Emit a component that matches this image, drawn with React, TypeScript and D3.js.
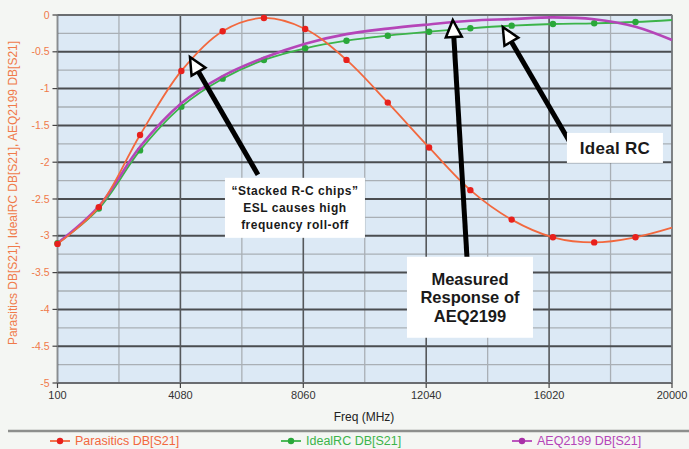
import * as d3 from "d3";
import React from "react";

const width = 689;
const height = 449;
const margin = { top: 15, right: 17, bottom: 66, left: 57.5 };

// frequency points (MHz) where markers sit, last one is the sweep end
const freqs = [100, 1437, 2774, 4111, 5448, 6785, 8122, 9459, 10796, 12133, 13470, 14807, 16144, 17481, 18818, 20000];
const parasitics = [-3.11, -2.61, -1.63, -0.76, -0.22, -0.04, -0.19, -0.61, -1.19, -1.8, -2.38, -2.78, -3.02, -3.09, -3.02, -2.89];
const idealRC = [-3.1, -2.63, -1.84, -1.245, -0.865, -0.611, -0.452, -0.349, -0.281, -0.227, -0.181, -0.145, -0.122, -0.113, -0.095, -0.068];
const aeq2199 = [-3.1, -2.6, -1.79, -1.2, -0.83, -0.58, -0.39, -0.26, -0.185, -0.128, -0.078, -0.055, -0.032, -0.058, -0.159, -0.34];

const xTicks = [100, 4080, 8060, 12040, 16020, 20000];
const yTicks = [0, -0.5, -1, -1.5, -2, -2.5, -3, -3.5, -4, -4.5, -5];

const series = [
  { name: "IdealRC DB[S21]", values: idealRC, line: "#3cb44a", mark: "#2aa83a", markers: true },
  { name: "AEQ2199 DB[S21]", values: aeq2199, line: "#b545b8", mark: "#a830a8", markers: false },
  { name: "Parasitics DB[S21]", values: parasitics, line: "#f2683e", mark: "#e8201c", markers: true },
];
const legendOrder = ["Parasitics DB[S21]", "IdealRC DB[S21]", "AEQ2199 DB[S21]"];

// annotations in data units (freq, dB)
const notes = [
  {
    lines: ["\u201cStacked R-C chips\u201d", "ESL causes high", "frequency roll-off"],
    tip: [4390, -0.57], tail: [6592, -2.17], box: [7790, -2.62], w: 140, h: 60, size: 12, lh: 17, ls: 0.5,
  },
  {
    lines: ["Measured", "Response of", "AEQ2199"],
    tip: [12902, -0.068], tail: [13360, -3.29], box: [13457, -3.835], w: 126, h: 81, size: 16.5, lh: 18.5, ls: 0,
  },
  {
    lines: ["Ideal RC"],
    tip: [14521, -0.163], tail: [16690, -1.724], box: [18152, -1.806], w: 96, h: 30, size: 17, lh: 16, ls: 0.3,
  },
];

const x = d3.scaleLinear().domain([100, 20000]).range([margin.left, width - margin.right]);
const y = d3.scaleLinear().domain([0, -5]).range([margin.top, height - margin.bottom]);

const Arrow = ({ tip, tail }: { tip: number[]; tail: number[] }) => {
  const tx = x(tip[0]), ty = y(tip[1]);
  const sx = x(tail[0]), sy = y(tail[1]);
  const ang = Math.atan2(ty - sy, tx - sx);
  const len = 17, half = 8;
  const bx = tx - len * Math.cos(ang), by = ty - len * Math.sin(ang);
  const px = -Math.sin(ang) * half, py = Math.cos(ang) * half;
  return (
    <g>
      <line x1={sx} y1={sy} x2={bx} y2={by} stroke="#000" strokeWidth={5} />
      <path
        d={`M${tx},${ty}L${bx + px},${by + py}L${bx - px},${by - py}Z`}
        fill="#fff"
        stroke="#000"
        strokeWidth={2.5}
      />
    </g>
  );
};

const App = () => {
  const [x0, x1] = x.range();
  const [y0, y1] = y.range();
  const line = d3
    .line<number>()
    .x((_, i) => x(freqs[i]))
    .y((d) => y(d))
    .curve(d3.curveCatmullRom.alpha(0.5));

  const minorX = xTicks.slice(1).map((t, i) => (t + xTicks[i]) / 2);
  const minorY = d3.range(0, 10).map((i) => -0.25 - i * 0.5);

  const legendX: Record<string, number> = {
    "Parasitics DB[S21]": 60,
    "IdealRC DB[S21]": 291,
    "AEQ2199 DB[S21]": 522,
  };

  return (
    <svg
      width={width}
      height={height}
      style={{ position: "absolute", left: 0, top: 0, fontFamily: "Liberation Sans, Arial, sans-serif" }}
    >
      <rect width={width} height={height} fill="#f4f6f3" />
      <rect x={x0} y={y0} width={x1 - x0} height={y1 - y0} fill="#dce9f5" />

      {/* grid */}
      {minorY.map((v) => (
        <line key={"my" + v} x1={x0} x2={x1} y1={y(v)} y2={y(v)} stroke="#a9afb5" strokeWidth={1.3} />
      ))}
      {minorX.map((v) => (
        <line key={"mx" + v} x1={x(v)} x2={x(v)} y1={y0} y2={y1} stroke="#a9afb5" strokeWidth={1.3} />
      ))}
      {yTicks.map((v) => (
        <line key={"gy" + v} x1={x0} x2={x1} y1={y(v)} y2={y(v)} stroke="#4a4d50" strokeWidth={2} />
      ))}
      {xTicks.map((v) => (
        <line key={"gx" + v} x1={x(v)} x2={x(v)} y1={y0} y2={y1} stroke="#55585b" strokeWidth={1.6} />
      ))}
      <rect x={x0} y={y0} width={x1 - x0} height={y1 - y0} fill="none" stroke="#8a8d90" strokeWidth={1} />

      {/* y axis */}
      {yTicks.map((v) => (
        <g key={"yt" + v}>
          <line x1={x0 - 5} x2={x0} y1={y(v)} y2={y(v)} stroke="#444" strokeWidth={1.2} />
          <text x={x0 - 8} y={y(v)} dy="0.35em" textAnchor="end" fontSize={10.5} fill="#f07a4a">
            {v}
          </text>
        </g>
      ))}
      <text
        transform={`translate(17,193) rotate(-90)`}
        textAnchor="middle"
        fontSize={12}
        fill="#f07a4a"
      >
        Parasitics DB[S21], IdealRC DB[S21], AEQ2199 DB[S21]
      </text>

      {/* x axis */}
      {xTicks.map((v) => (
        <g key={"xt" + v}>
          <line x1={x(v)} x2={x(v)} y1={y1} y2={y1 + 5} stroke="#444" strokeWidth={1.2} />
          <text x={x(v)} y={y1 + 16} textAnchor="middle" fontSize={11} fill="#333">
            {v}
          </text>
        </g>
      ))}
      <text x={364} y={y1 + 38} textAnchor="middle" fontSize={12} fill="#222">
        Freq (MHz)
      </text>

      {/* series */}
      {series.map((s) => (
        <g key={s.name}>
          <path d={line(s.values) || ""} fill="none" stroke={s.line} strokeWidth={s.name.startsWith("AEQ") ? 2.6 : 1.8} />
          {s.markers &&
            s.values.slice(0, -1).map((v, i) => (
              <circle key={i} cx={x(freqs[i])} cy={y(v)} r={3.2} fill={s.mark} />
            ))}
        </g>
      ))}

      {/* annotations */}
      {notes.map((n, k) => {
        const cx = x(n.box[0]);
        const cy = y(n.box[1]);
        const top = cy - ((n.lines.length - 1) * n.lh) / 2;
        return (
          <g key={k}>
            <Arrow tip={n.tip} tail={n.tail} />
            <rect x={cx - n.w / 2} y={cy - n.h / 2} width={n.w} height={n.h} fill="#fff" />
            {n.lines.map((l, i) => (
              <text
                key={i}
                x={cx}
                y={top + i * n.lh}
                dy="0.35em"
                textAnchor="middle"
                fontSize={n.size}
                fontWeight="bold"
                letterSpacing={n.ls}
                fill="#1a1a1a"
              >
                {l}
              </text>
            ))}
          </g>
        );
      })}

      {/* legend */}
      <line x1={8} x2={width} y1={431} y2={431} stroke="#8d8f8d" strokeWidth={2.5} />
      {legendOrder.map((name) => {
        const s = series.find((d) => d.name === name)!;
        const lx = legendX[name];
        return (
          <g key={"lg" + name}>
            <line x1={lx - 10} x2={lx + 10} y1={441} y2={441} stroke={s.line} strokeWidth={1.8} />
            <circle cx={lx} cy={441} r={3.2} fill={s.mark} />
            <text x={lx + 15} y={441} dy="0.35em" fontSize={12.5} fill={s.line}>
              {name}
            </text>
          </g>
        );
      })}
    </svg>
  );
};

export default App;
